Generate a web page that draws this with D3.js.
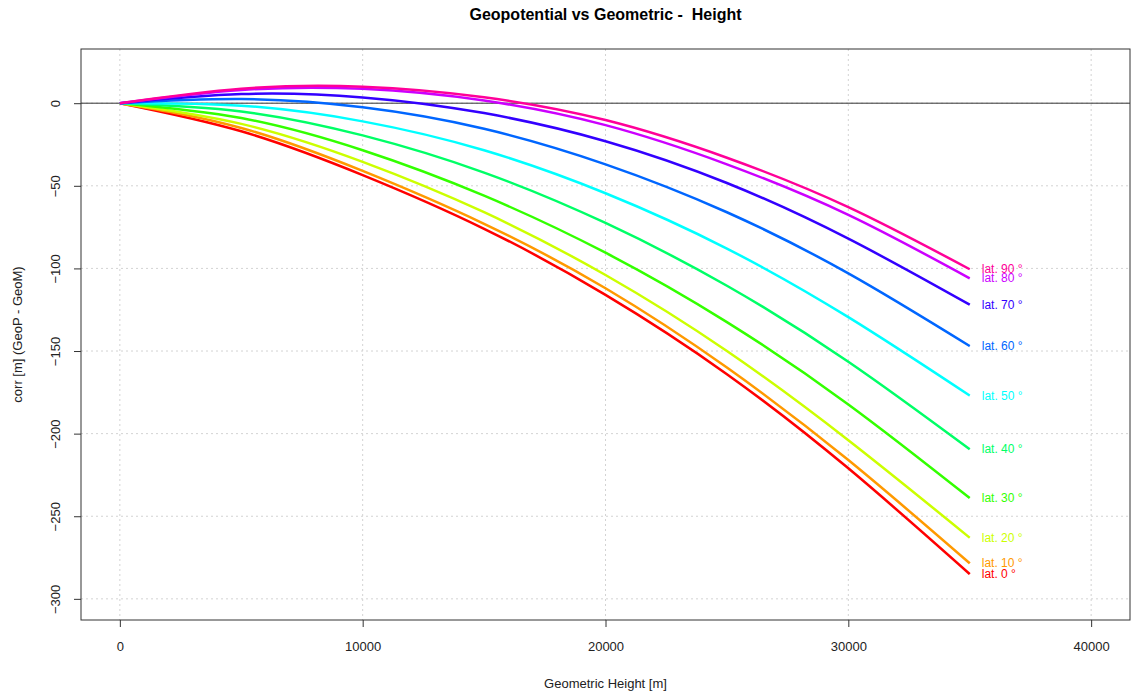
<!DOCTYPE html>
<html>
<head>
<meta charset="utf-8">
<script src="https://cdn.jsdelivr.net/npm/d3@7"></script>
<style>
  body { margin: 0; background: #fff; }
  svg { font-family: "Liberation Sans", Arial, sans-serif; }
</style>
</head>
<body>
<svg id="chart" width="1136" height="691"></svg>
<script>
// geometric height samples [m]
const heights = [0, 5000, 10000, 15000, 20000, 25000, 30000, 35000];

// correction (GeoP - GeoM) [m], one array per latitude
const lat0  = [0, -17.0, -43.5, -76.0, -116.0, -164.0, -221.0, -285.0];
const lat10 = [0, -15.0, -41.0, -73.0, -112.0, -160.0, -216.0, -278.5];
const lat20 = [0, -12.5, -35.5, -66.0, -104.0, -150.0, -204.0, -263.0];
const lat30 = [0,  -9.0, -28.5, -56.0,  -90.5, -132.5, -182.3, -239.0];
const lat40 = [0,  -5.0, -19.5, -42.0,  -72.5, -110.5, -156.5, -209.5];
const lat50 = [0,  -1.5, -11.0, -28.5,  -54.5,  -88.0, -129.5, -177.0];
const lat60 = [0,   2.5,  -2.5, -15.5,  -37.0,  -66.0, -103.0, -147.0];
const lat70 = [0,   5.5,   3.5,  -6.0,  -23.0,  -48.3,  -82.0, -122.0];
const lat80 = [0,   8.0,   8.7,   1.6,  -13.3,  -37.0,  -67.6, -106.0];
const lat90 = [0,   8.8,  10.0,   3.6,  -10.2,  -33.0,  -62.9, -100.5];

const latitudes = [0, 10, 20, 30, 40, 50, 60, 70, 80, 90];
const corrSeries = [lat0, lat10, lat20, lat30, lat40, lat50, lat60, lat70, lat80, lat90];
const colors = ['#FF0000', '#FF9900', '#CCFF00', '#33FF00', '#00FF66',
                '#00FFFF', '#0066FF', '#3300FF', '#CC00FF', '#FF0099'];

const xTicks = [0, 10000, 20000, 30000, 40000];
const yTicks = [0, -50, -100, -150, -200, -250, -300];

const margin = {top: 49, right: 6, bottom: 71, left: 81};
const width = 1136, height = 691;

const svg = d3.select('#chart');

// R style: limits extended by 4%
const xlim = [0, 40000], ylim = [-300, 20];
const xpad = (xlim[1] - xlim[0]) * 0.04, ypad = (ylim[1] - ylim[0]) * 0.04;

const x = d3.scaleLinear()
    .domain([xlim[0] - xpad, xlim[1] + xpad])
    .range([margin.left, width - margin.right]);
const y = d3.scaleLinear()
    .domain([ylim[0] - ypad, ylim[1] + ypad])
    .range([height - margin.bottom, margin.top]);

// grid
const grid = svg.append('g').attr('stroke', '#d3d3d3').attr('stroke-dasharray', '2,3');
grid.selectAll('.gx').data(xTicks).enter().append('line')
    .attr('x1', d => x(d)).attr('x2', d => x(d))
    .attr('y1', margin.top).attr('y2', height - margin.bottom);
grid.selectAll('.gy').data(yTicks).enter().append('line')
    .attr('y1', d => y(d)).attr('y2', d => y(d))
    .attr('x1', margin.left).attr('x2', width - margin.right);

// zero line
svg.append('line')
    .attr('x1', margin.left).attr('x2', width - margin.right)
    .attr('y1', y(0)).attr('y2', y(0))
    .attr('stroke', '#333').attr('stroke-width', 1);

// curves
const line = d3.line()
    .x((d, i) => x(heights[i]))
    .y(d => y(d))
    .curve(d3.curveNatural);

svg.append('g').selectAll('path')
    .data(corrSeries)
    .enter().append('path')
    .attr('d', d => line(d))
    .attr('fill', 'none')
    .attr('stroke', (d, i) => colors[i])
    .attr('stroke-width', 2.5);

// labels at the end of each curve (they overlap in the original too)
svg.append('g').selectAll('text')
    .data(corrSeries)
    .enter().append('text')
    .attr('x', d => x(heights[heights.length - 1]) + 12)
    .attr('y', d => y(d[d.length - 1]) + 4)
    .attr('fill', (d, i) => colors[i])
    .style('font-size', '12px')
    .text((d, i) => 'lat. ' + latitudes[i] + ' \u00b0');

// box
svg.append('rect')
    .attr('x', margin.left).attr('y', margin.top)
    .attr('width', width - margin.right - margin.left)
    .attr('height', height - margin.bottom - margin.top)
    .attr('fill', 'none').attr('stroke', '#333');

// axes
const xAxis = d3.axisBottom(x).tickValues(xTicks).tickSize(7).tickPadding(15)
    .tickFormat(d3.format('d'));
svg.append('g')
    .attr('transform', `translate(0,${height - margin.bottom})`)
    .call(xAxis)
    .call(g => g.select('.domain').remove())
    .call(g => g.selectAll('line').attr('stroke', '#333'))
    .call(g => g.selectAll('text').style('font-size', '13px').attr('fill', '#222'));

const yAxis = d3.axisLeft(y).tickValues(yTicks).tickSize(7).tickFormat(d3.format('d'));
const ya = svg.append('g')
    .attr('transform', `translate(${margin.left},0)`)
    .call(yAxis)
    .call(g => g.select('.domain').remove())
    .call(g => g.selectAll('line').attr('stroke', '#333'));
ya.selectAll('text')
    .attr('x', 0).attr('dy', 0)
    .attr('text-anchor', 'middle')
    .attr('transform', 'translate(-21,0) rotate(-90)')
    .style('font-size', '13px').attr('fill', '#222');

// titles
svg.append('text')
    .attr('x', (margin.left + width - margin.right) / 2).attr('y', 20)
    .attr('text-anchor', 'middle')
    .style('font-size', '16px').style('font-weight', 'bold')
    .style('white-space', 'pre')
    .text('Geopotential vs Geometric -  Height');

svg.append('text')
    .attr('x', (margin.left + width - margin.right) / 2).attr('y', 688)
    .attr('text-anchor', 'middle')
    .style('font-size', '13px').attr('fill', '#222')
    .text('Geometric Height [m]');

svg.append('text')
    .attr('transform', `translate(22,${(margin.top + height - margin.bottom) / 2}) rotate(-90)`)
    .attr('text-anchor', 'middle')
    .style('font-size', '13px').attr('fill', '#222')
    .text('corr [m] (GeoP - GeoM)');
</script>
</body>
</html>
